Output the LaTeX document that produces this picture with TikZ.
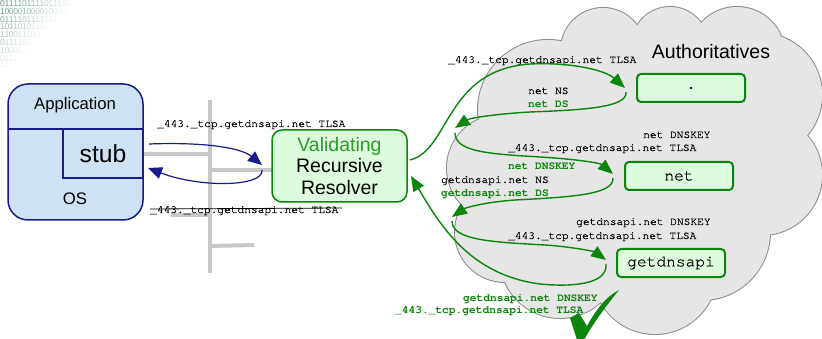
\documentclass[tikz,border=0pt]{standalone}
\usepackage{fontspec}
\setmainfont{Liberation Sans}
\setsansfont{Liberation Sans}
\setmonofont{texgyrecursor}[Extension=.otf, UprightFont=*-regular, BoldFont=*-bold, UprightFeatures={FakeBold=0.5}]
\usetikzlibrary{arrows.meta}
\definecolor{appfill}{HTML}{CFE2F3}
\definecolor{navy}{HTML}{1A1A8C}
\definecolor{resfill}{HTML}{DDFBDD}
\definecolor{grn}{HTML}{0B850B}
\definecolor{txtgrn}{HTML}{2A9A2A}
\definecolor{cloudfill}{HTML}{E6E6E6}
\definecolor{cloudline}{HTML}{8C8C8C}
\definecolor{wire}{HTML}{C8C8C8}
\definecolor{bincol}{HTML}{3F7A66}
\begin{document}
\begin{tikzpicture}[x=1pt,y=-1pt,
  bindigit/.style={text=bincol, font=\fontsize{8.5}{8.5}\selectfont, inner sep=0pt},
  appbox/.style={draw=navy, fill=appfill, line width=1.5pt, rounded corners=20pt},
  stubbox/.style={draw=navy, fill=appfill, line width=1.5pt, inner sep=0pt},
  sanslbl/.style={inner sep=0pt},
  resbox/.style={draw=grn, fill=resfill, line width=1.5pt, rounded corners=10pt, align=center,
    font=\fontsize{19.5}{21.5}\selectfont},
  authbox/.style={draw=grn, fill=resfill, line width=2pt, rounded corners=4pt,
    minimum width=108pt, minimum height=28pt, inner sep=0pt, font=\ttfamily\fontsize{16.2}{16.2}\selectfont},
  lbl/.style={anchor=base west, inner sep=0pt, font=\ttfamily\fontsize{11.2}{11.2}\selectfont},
  glbl/.style={lbl, text=grn, font=\ttfamily\bfseries\fontsize{11.2}{11.2}\selectfont},
  wireline/.style={draw=wire, line width=4pt},
  bluearr/.style={draw=navy, line width=1.2pt, -{Triangle[length=14pt,width=12pt]}},
  grnarr/.style={draw=grn, line width=1.4pt, -{Triangle[length=15pt,width=12pt]}},
]
\useasboundingbox (0,0) rectangle (822,339);

% faded binary pattern
\foreach \r in {0,...,8}{
  \foreach \c in {0,...,16}{
    \pgfmathsetmacro\op{0.85*(1-(\c*4.4+\r*8)/74)}
    \pgfmathtruncatemacro\d{mod(\r*7+\c*\c*3+\c*5+1,5)<2 ? 0 : 1}
    \ifdim\op pt>0.03pt
      \node[bindigit, opacity=\op] (bin\r-\c) at (2.5+\c*4.4, 3.5+\r*7.8) {\d};
    \fi
  }
}

% cloud
\def\cloudlist{548/110/70, 603/50/42, 670/45/38, 737/55/48, 760/95/62, 762/175/60,
  702/232/68, 655/272/62, 560/258/60, 505/232/50, 500/168/53, 640/170/110}
\foreach \cx/\cy/\cr in \cloudlist {
  \filldraw[fill=cloudfill, draw=cloudline, line width=2pt] (\cx,\cy) circle[radius=\cr pt];
}
\foreach \cx/\cy/\cr in \cloudlist {
  \fill[cloudfill] (\cx,\cy) circle[radius=\cr pt];
}

% gray wires
\draw[wireline] (210,100) -- (210,273);
\draw[wireline] (143,154) -- (210,154);
\draw[wireline] (210,170) -- (272,170);
\draw[wireline] (171,215) -- (210,215);
\draw[wireline] (210,246) -- (254,245);

% application / OS
\node[appbox, minimum width=135pt, minimum height=136pt] (app) at (75.5,152) {};
\draw[navy, line width=1.5pt] (8,129) -- (143,129);
\node[stubbox, minimum width=80pt, minimum height=49pt, font=\fontsize{24.7}{24.7}\selectfont] (stub) at (103,153.5) {stub};
\node[sanslbl, font=\fontsize{16.7}{16.7}\selectfont] (applbl) at (75,105) {Application};
\node[sanslbl, font=\fontsize{16.7}{16.7}\selectfont] (oslbl) at (75,199) {OS};

% resolver
\node[resbox, minimum width=135pt, minimum height=72pt, inner sep=0pt] (res) at (339.5,166)
  {\textcolor{txtgrn}{Validating}\\Recursive\\Resolver};

% stub <-> resolver
\node[lbl] (q0) at (157,127) {\_443.\_tcp.getdnsapi.net TLSA};
\node[lbl] (a0) at (150,213) {\_443.\_tcp.getdnsapi.net TLSA};
\draw[black, line width=0.8pt] (150,209) -- (342,208);
\coordinate (b1s) at (149,144);
\coordinate (b1e) at (262,165);
\coordinate (b2s) at (262,170);
\coordinate (b2e) at (148,168);
\draw[bluearr] (b1s) .. controls (200,142) and (240,147) .. (b1e);
\draw[bluearr] (b2s) .. controls (264,187) and (200,188) .. (b2e);

% authoritatives
\node[sanslbl, font=\fontsize{19.5}{19.5}\selectfont] (auth) at (711,52) {Authoritatives};
\node[authbox] (root) at (691,88) {.};
\node[authbox] (netbox) at (679,176) {net};
\node[authbox] (gbox) at (671,263) {getdnsapi};

% labels
\node[lbl] (l1) at (448,63) {\_443.\_tcp.getdnsapi.net TLSA};
\node[lbl] (l2) at (528,94) {net NS};
\node[glbl] (l3) at (528,108) {net DS};
\node[lbl] (l4) at (643,138) {net DNSKEY};
\node[lbl] (l5) at (508,151) {\_443.\_tcp.getdnsapi.net TLSA};
\node[glbl] (l6) at (508,170) {net DNSKEY};
\node[lbl] (l7) at (441,183) {getdnsapi.net NS};
\node[glbl] (l8) at (441,197) {getdnsapi.net DS};
\node[lbl] (l9) at (576,225) {getdnsapi.net DNSKEY};
\node[lbl] (l10) at (508,239) {\_443.\_tcp.getdnsapi.net TLSA};
\node[glbl] (l11) at (463,301) {getdnsapi.net DNSKEY};
\node[glbl] (l12) at (395,313) {\_443.\_tcp.getdnsapi.net TLSA};

% green arrows
\coordinate (g1s) at (410,160);
\coordinate (g1e) at (625,88);
\coordinate (g2s) at (626,92);
\coordinate (g2e) at (455,128);
\coordinate (g3s) at (455,133);
\coordinate (g3e) at (613,174);
\coordinate (g4s) at (613,178);
\coordinate (g4e) at (452,217);
\coordinate (g5s) at (452,221);
\coordinate (g5e) at (606,260);
\coordinate (g6s) at (606,264);
\coordinate (g6e) at (411,176);
\draw[grnarr] (g1s) .. controls (450,150) and (445,70) .. (530,64) .. controls (570,62) and (605,70) .. (g1e);
\draw[grnarr] (g2s) .. controls (628,108) and (580,110) .. (530,112) .. controls (495,114) and (470,118) .. (g2e);
\draw[grnarr] (g3s) .. controls (455,152) and (490,154) .. (540,157) .. controls (575,159) and (600,163) .. (g3e);
\draw[grnarr] (g4s) .. controls (614,195) and (570,197) .. (515,200) .. controls (485,202) and (465,208) .. (g4e);
\draw[grnarr] (g5s) .. controls (452,240) and (490,242) .. (545,245) .. controls (575,247) and (595,252) .. (g5e);
\draw[grnarr] (g6s) .. controls (608,285) and (570,287) .. (540,284) .. controls (470,275) and (440,225) .. (g6e);

% check mark
\fill[grn] (570,318) -- (579,313) -- (587,326) .. controls (597,308) and (606,297) .. (619,290)
  .. controls (606,306) and (592,325) .. (584,340) -- (577,340) -- cycle;
\end{tikzpicture}
\end{document}
